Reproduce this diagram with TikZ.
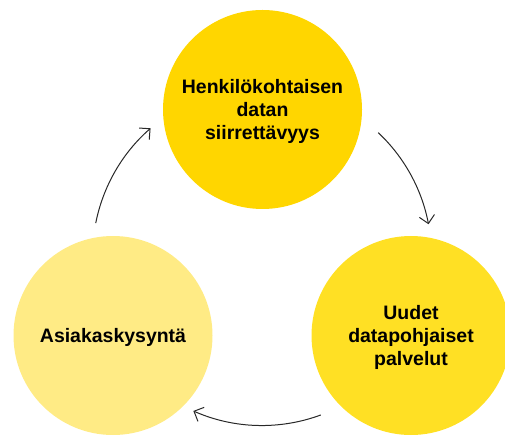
\documentclass[tikz,border=0pt]{standalone}
\usepackage{fontspec}
\setmainfont{Liberation Sans}
\usetikzlibrary{arrows.meta}
\definecolor{topyellow}{RGB}{255,214,0}
\definecolor{ryellow}{RGB}{255,224,36}
\definecolor{lyellow}{RGB}{255,235,133}
\definecolor{arrowgray}{RGB}{40,40,40}
\begin{document}
\begin{tikzpicture}[x=0.75pt,y=0.75pt,
  bubble/.style={circle, inner sep=0pt, minimum size=149.25pt, align=center,
    text depth=0pt,
    font=\bfseries\fontsize{14.6pt}{17.25pt}\selectfont, text=black},
  cyc/.style={draw=arrowgray, line width=0.75pt,
    -{Straight Barb[length=5.8pt,width=11.5pt,line width=0.75pt]}}]
\useasboundingbox (0,0) rectangle (505,435);
\clip (0,0) rectangle (505,435);
\node[bubble, fill=topyellow] (top) at (262.5,325.5) {Henkilökohtaisen\\datan\\siirrettävyys};
\node[bubble, fill=ryellow] (right) at (411,99.5) {Uudet\\datapohjaiset\\palvelut};
\node[bubble, fill=lyellow] (left) at (113,99.5) {Asiakaskysyntä};
\coordinate (O) at (262,179);
\draw[cyc] ([shift={(46.7:169.5)}]O) arc[start angle=46.7, end angle=10.8, radius=169.5];
\draw[cyc] ([shift={(-69.7:169.5)}]O) arc[start angle=-69.7, end angle=-113.9, radius=169.5];
\draw[cyc] ([shift={(168.8:169.5)}]O) arc[start angle=168.8, end angle=131.1, radius=169.5];
\end{tikzpicture}
\end{document}
